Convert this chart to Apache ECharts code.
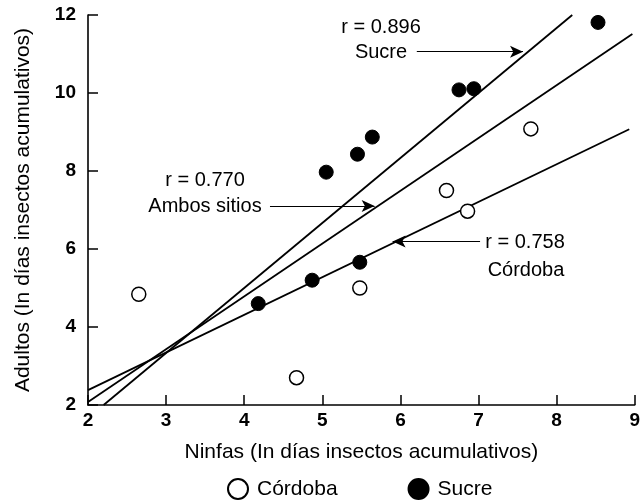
<!DOCTYPE html>
<html>
<head>
<meta charset="utf-8">
<script src="https://cdn.jsdelivr.net/npm/echarts@6/dist/echarts.min.js"></script>
<style>
html,body{margin:0;padding:0;background:#fff;}
#chart{width:643px;height:500px;}
</style>
</head>
<body>
<div id="chart"></div>
<script>
// ---- data ----
var cordobaPoints = [[2.65, 4.84], [4.67, 2.70], [5.48, 5.00], [6.59, 7.50], [6.86, 6.97], [7.67, 9.08]];
var sucrePoints = [[4.18, 4.60], [4.87, 5.20], [5.48, 5.66], [5.05, 7.97], [5.45, 8.43], [5.64, 8.87], [6.75, 10.08], [6.94, 10.11], [8.53, 11.81]];
var lineCordoba = [[2.0, 2.38], [8.93, 9.07]];
var lineAmbos = [[2.0, 2.08], [8.97, 11.51]];
var lineSucre = [[2.2, 2.0], [8.2, 12.0]];
var arrowSucre = [[6.21, 11.06], [7.57, 11.06]];
var arrowAmbos = [[4.33, 7.10], [5.67, 7.10]];
var arrowCordoba = [[7.02, 6.19], [5.90, 6.19]];
var xTicks = [2, 3, 4, 5, 6, 7, 8, 9];
var yTicks = [2, 4, 6, 8, 10, 12];
var xTitle = 'Ninfas (In días insectos acumulativos)';
var yTitle = 'Adultos (In días insectos acumulativos)';
var seriesNames = ['Córdoba', 'Sucre'];

var FONT = 'Liberation Sans, Arial, Helvetica, sans-serif';
var chart = echarts.init(document.getElementById('chart'), null, {renderer: 'canvas'});

function arrowML(a) {
  return {
    silent: true,
    symbol: ['none', 'arrow'],
    symbolSize: [9, 13],
    lineStyle: {color: '#000', width: 1, type: 'solid'},
    label: {show: false},
    emphasis: {disabled: true},
    data: [[{coord: a[0]}, {coord: a[1]}]]
  };
}
function regLine(name, d, arrow) {
  return {
    name: name, type: 'line', data: d, symbol: 'none', z: 2,
    lineStyle: {color: '#000', width: 1.8}, silent: true,
    markLine: arrowML(arrow)
  };
}
function txt(x, y, s) {
  return {type: 'text', x: x, y: y, style: {text: s, font: '20px ' + FONT, fill: '#000',
    align: 'center', verticalAlign: 'middle', textAlign: 'center', textVerticalAlign: 'middle'}};
}

var option = {
  animation: false,
  backgroundColor: '#fff',
  grid: {left: 88, right: 8, top: 15, bottom: 95, containLabel: false},
  xAxis: {
    type: 'value', min: xTicks[0], max: xTicks[xTicks.length - 1], interval: 1,
    name: xTitle, nameLocation: 'middle', nameGap: 37,
    nameTextStyle: {fontFamily: FONT, fontSize: 21, color: '#000'},
    axisLine: {lineStyle: {color: '#000', width: 1.6}},
    axisTick: {inside: true, length: 10, lineStyle: {color: '#000', width: 1.5}},
    axisLabel: {fontFamily: FONT, fontSize: 19, fontWeight: 'bold', color: '#000', margin: 6},
    splitLine: {show: false}
  },
  yAxis: {
    type: 'value', min: yTicks[0], max: yTicks[yTicks.length - 1], interval: 2,
    name: yTitle, nameLocation: 'middle', nameGap: 54,
    nameTextStyle: {fontFamily: FONT, fontSize: 21, color: '#000'},
    axisLine: {lineStyle: {color: '#000', width: 1.6}},
    axisTick: {inside: true, length: 10, lineStyle: {color: '#000', width: 1.5}},
    axisLabel: {fontFamily: FONT, fontSize: 19, fontWeight: 'bold', color: '#000', margin: 12},
    splitLine: {show: false}
  },
  legend: {
    data: seriesNames, top: 473, left: 222, itemGap: 70,
    itemWidth: 20, itemHeight: 20, icon: 'circle',
    textStyle: {fontFamily: FONT, fontSize: 21, color: '#000', padding: [0, 0, 0, 4]},
    selectedMode: false
  },
  graphic: [
    txt(381, 27, 'r = 0.896'),
    txt(381, 52, 'Sucre'),
    txt(205, 180, 'r = 0.770'),
    txt(205, 206, 'Ambos sitios'),
    txt(525, 242, 'r = 0.758'),
    txt(526, 270, 'Córdoba')
  ],
  series: [
    regLine('lineCordoba', lineCordoba, arrowCordoba),
    regLine('lineAmbos', lineAmbos, arrowAmbos),
    regLine('lineSucre', lineSucre, arrowSucre),
    {
      name: seriesNames[0], type: 'scatter', data: cordobaPoints, symbol: 'circle', symbolSize: 14, z: 5,
      itemStyle: {color: '#fff', borderColor: '#000', borderWidth: 1.5, opacity: 1}
    },
    {
      name: seriesNames[1], type: 'scatter', data: sucrePoints, symbol: 'circle', symbolSize: 14, z: 5,
      itemStyle: {color: '#000', borderColor: '#000', borderWidth: 1, opacity: 1}
    }
  ]
};
chart.setOption(option);
</script>
</body>
</html>
